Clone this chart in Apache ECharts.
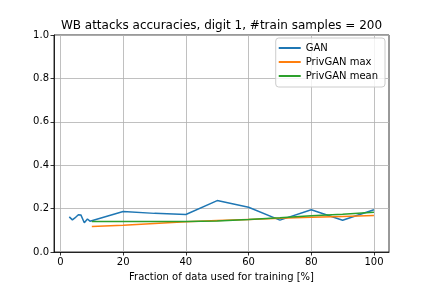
<!DOCTYPE html>
<html>
<head>
<meta charset="utf-8">
<script src="https://cdn.jsdelivr.net/npm/echarts@6/dist/echarts.min.js"></script>
<style>html,body{margin:0;padding:0;background:#fff;}#c{width:432px;height:288px;}</style>
</head>
<body>
<div id="c"></div>
<script>
const titleText = "WB attacks accuracies, digit 1, #train samples = 200";
const xLabel = "Fraction of data used for training [%]";
const xTicks = [0, 20, 40, 60, 80, 100];
const yTicks = [0, 0.2, 0.4, 0.6, 0.8, 1.0];

const ganX = [2.8, 3.8, 4.6, 5.7, 6.5, 7.6, 8.6, 9.4, 10, 20, 30, 40, 50, 60, 70, 80, 90, 100];
const ganY = [0.162, 0.148, 0.157, 0.172, 0.171, 0.135, 0.152, 0.142, 0.145, 0.187, 0.178, 0.173, 0.237, 0.206, 0.147, 0.195, 0.146, 0.195];

const privX = [10, 20, 30, 40, 50, 60, 70, 80, 90, 100];
const privMaxY = [0.117, 0.123, 0.131, 0.139, 0.145, 0.150, 0.155, 0.160, 0.164, 0.168];
const privMeanY = [0.141, 0.141, 0.141, 0.141, 0.143, 0.150, 0.158, 0.167, 0.174, 0.183];

const names = ["GAN", "PrivGAN max", "PrivGAN mean"];
const colors = ["#1f77b4", "#ff7f0e", "#2ca02c"];

const pairs = (xs, ys) => xs.map((x, i) => [x, ys[i]]);
const font = "DejaVu Sans";

const chart = echarts.init(document.getElementById('c'), null, {renderer: 'canvas'});
chart.setOption({
  animation: false,
  backgroundColor: '#fff',
  title: {
    text: titleText,
    left: 216.5, top: 15, textAlign: 'center',
    textStyle: {fontFamily: font, fontSize: 12, fontWeight: 'normal', color: '#000'}
  },
  grid: {left: 54, right: 43, top: 35, bottom: 36, show: true, borderColor: '#000', borderWidth: 0.8, backgroundColor: 'transparent'},
  legend: {
    orient: 'vertical', right: 47, top: 38,
    data: names,
    icon: 'rect', itemWidth: 22, itemHeight: 2, itemGap: 4,
    padding: [5, 7, 6, 3],
    borderColor: '#ccc', borderWidth: 1, borderRadius: 3, backgroundColor: 'rgba(255,255,255,0.8)',
    textStyle: {fontFamily: font, fontSize: 10, color: '#000', padding: [0,0,0,0]}
  },
  xAxis: {
    type: 'value', min: -2.07, max: 104.8,
    name: xLabel, nameLocation: 'middle', nameGap: 20,
    nameTextStyle: {fontFamily: font, fontSize: 10, color: '#000'},
    axisLine: {show: true, onZero: false, lineStyle: {color: '#000', width: 0.8}},
    axisTick: {show: true, length: 3.5, inside: false, customValues: xTicks, lineStyle: {color: '#000', width: 0.8}},
    axisLabel: {fontFamily: font, fontSize: 10, color: '#000', margin: 5, customValues: xTicks, formatter: v => String(v)},
    splitLine: {show: true, lineStyle: {color: '#b0b0b0', width: 0.8}}
  },
  yAxis: {
    type: 'value', min: 0, max: 1, interval: 0.2,
    axisLine: {show: true, onZero: false, lineStyle: {color: '#000', width: 0.8}},
    axisTick: {show: true, length: 3.5, inside: false, lineStyle: {color: '#000', width: 0.8}},
    axisLabel: {fontFamily: font, fontSize: 10, color: '#000', margin: 5, formatter: v => v.toFixed(1)},
    splitLine: {show: true, lineStyle: {color: '#b0b0b0', width: 0.8}}
  },
  series: [
    {name: names[0], type: 'line', data: pairs(ganX, ganY), symbol: 'none', lineStyle: {width: 1.5, color: colors[0]}, itemStyle: {color: colors[0]}, z: 3},
    {name: names[1], type: 'line', data: pairs(privX, privMaxY), symbol: 'none', lineStyle: {width: 1.5, color: colors[1]}, itemStyle: {color: colors[1]}, z: 4},
    {name: names[2], type: 'line', data: pairs(privX, privMeanY), symbol: 'none', lineStyle: {width: 1.5, color: colors[2]}, itemStyle: {color: colors[2]}, z: 5}
  ]
});
</script>
</body>
</html>
